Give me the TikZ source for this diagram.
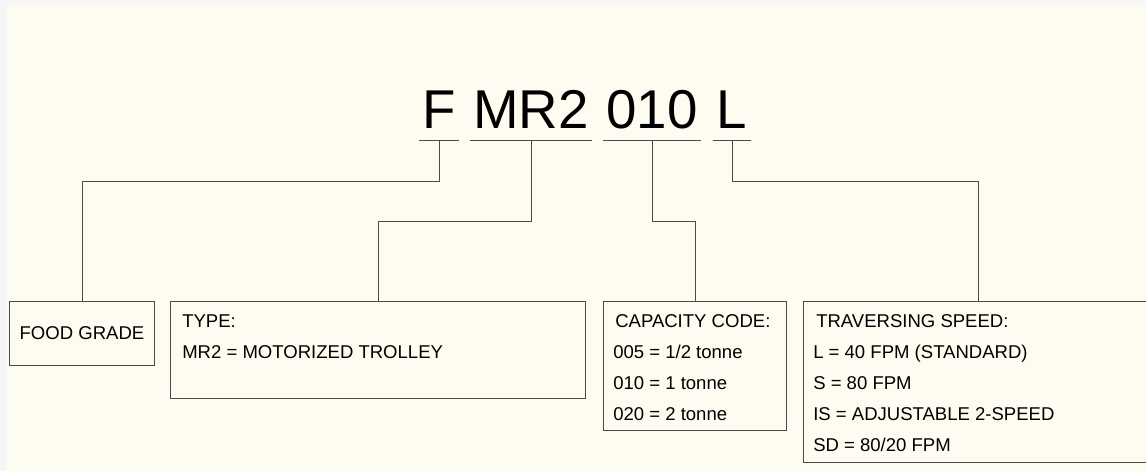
\documentclass[tikz,border=0pt]{standalone}
\usepackage{fontspec}
\setmainfont{Liberation Sans}
\usepackage{xcolor}
\usetikzlibrary{positioning}

\definecolor{paper}{HTML}{FEFBF0}
\definecolor{margin}{HTML}{F6F6F6}
\definecolor{rule}{HTML}{4A4A48}
\definecolor{ink}{HTML}{000000}

\begin{document}
\begin{tikzpicture}[
        x=0.75pt, y=-0.75pt,
        code/.style={anchor=base, inner xsep=2.6pt, inner ysep=9pt, text=ink, font=\fontsize{41}{45}\selectfont},
        box/.style={draw=rule, line width=0.7pt, rectangle, anchor=north west, inner sep=0pt},
        entry/.style={anchor=base west, inner sep=0pt, text=ink, font=\fontsize{13.9}{16}\selectfont},
        link/.style={draw=rule, line width=0.7pt}
    ]

    % Page
    \clip (0,0) rectangle (1146,471);
    \fill[margin] (0,0) rectangle (1146,471);
    \fill[paper] (7,5) rectangle (1146,471);

    % Model code
    \node[code] (f) at (439,128) {F};
    \node[code] (mr) at (531,128) {MR2};
    \node[code] (cap) at (652,128) {010};
    \node[code] (spd) at (732,128) {L};

    \foreach \c in {f, mr, cap, spd}
        \draw[link] (\c.south west) -- (\c.south east);

    % Boxes
    \node[box, minimum width=108.75pt, minimum height=48pt] (food) at (9,301) {};
    \node[entry, anchor=center] (foodtxt) at (food.center) {FOOD GRADE};

    \node[box, minimum width=311.25pt, minimum height=72.75pt] (type) at (170,301) {};
    \node[entry] (typehead) at ([shift={(12,26)}]type.north west) {TYPE:};
    \node[entry] (typemr) at ([shift={(12,57)}]type.north west) {MR2 = MOTORIZED TROLLEY};

    \node[box, minimum width=137.25pt, minimum height=96.75pt] (capbox) at (603,301) {};
    \node[entry] (caphead) at ([shift={(12,26)}]capbox.north west) {CAPACITY CODE:};
    \node[entry] (cap1) at ([shift={(10,57)}]capbox.north west) {005 = 1/2 tonne};
    \node[entry] (cap2) at ([shift={(10,88)}]capbox.north west) {010 = 1 tonne};
    \node[entry] (cap3) at ([shift={(10,119)}]capbox.north west) {020 = 2 tonne};

    \node[box, minimum width=262.5pt, minimum height=120.75pt] (spdbox) at (803,301) {};
    \node[entry] (spdhead) at ([shift={(13,26)}]spdbox.north west) {TRAVERSING SPEED:};
    \node[entry] (spd1) at ([shift={(10,57)}]spdbox.north west) {L = 40 FPM (STANDARD)};
    \node[entry] (spd2) at ([shift={(10,88)}]spdbox.north west) {S = 80 FPM};
    \node[entry] (spd3) at ([shift={(10,119)}]spdbox.north west) {IS = ADJUSTABLE 2-SPEED};
    \node[entry] (spd4) at ([shift={(10,150)}]spdbox.north west) {SD = 80/20 FPM};

    % Leaders
    \draw[link] (f.south) -- ++(0,41) -| (food.north);
    \draw[link] (mr.south) -- ++(0,81) -| (type.north);
    \draw[link] (cap.south) -- ++(0,81) -| (capbox.north);
    \draw[link] (spd.south) -- ++(0,41) -| (spdbox.north);

\end{tikzpicture}
\end{document}
